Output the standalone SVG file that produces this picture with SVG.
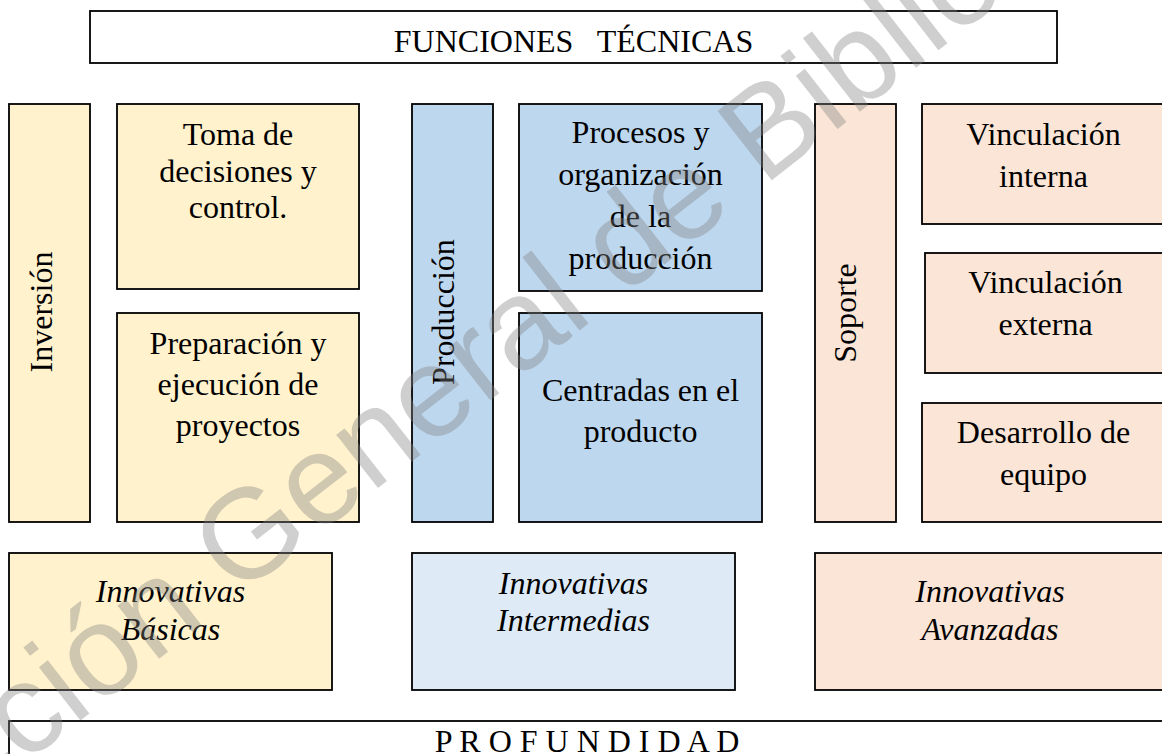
<svg xmlns="http://www.w3.org/2000/svg" width="1162" height="754" viewBox="0 0 1162 754">
<style>
  .box { stroke: #000; stroke-width: 1.8; }
  .y { fill: #FFF2CC; }
  .b { fill: #BDD7EE; }
  .lb { fill: #DEEBF7; }
  .p { fill: #FBE5D6; }
  .w { fill: #FFFFFF; }
  text { font-family: "Liberation Serif", "Times New Roman", serif; font-size: 32px; fill: #000; text-anchor: middle; }
  .it { font-style: italic; }
  .wm { font-family: "Liberation Sans", Arial, sans-serif; font-size: 128px; fill: #808080; fill-opacity: 0.38; text-anchor: start; }
</style>
<rect width="1162" height="754" fill="#FFFFFF"/>

<g id="titulo">
  <rect class="box w" x="90" y="11" width="967" height="52"/>
  <text x="573.5" y="52" xml:space="preserve">FUNCIONES   TÉCNICAS</text>
</g>

<g id="inversion">
  <rect class="box y" x="9" y="104" width="81" height="418"/>
  <text transform="translate(52,312) rotate(-90)">Inversión</text>
</g>
<g id="toma">
  <rect class="box y" x="117" y="104" width="242" height="185"/>
  <text x="238" y="145">Toma de</text>
  <text x="238" y="182">decisiones y</text>
  <text x="238" y="218">control.</text>
</g>
<g id="preparacion">
  <rect class="box y" x="117" y="313" width="242" height="209"/>
  <text x="238" y="354">Preparación y</text>
  <text x="238" y="395">ejecución de</text>
  <text x="238" y="436">proyectos</text>
</g>

<g id="produccion">
  <rect class="box b" x="412" y="104" width="81" height="418"/>
  <text transform="translate(454,312) rotate(-90)">Producción</text>
</g>
<g id="procesos">
  <rect class="box b" x="519" y="104" width="243" height="187"/>
  <text x="640.5" y="143">Procesos y</text>
  <text x="640.5" y="185">organización</text>
  <text x="640.5" y="227">de la</text>
  <text x="640.5" y="269">producción</text>
</g>
<g id="centradas">
  <rect class="box b" x="519" y="313" width="243" height="209"/>
  <text x="640.5" y="401">Centradas en el</text>
  <text x="640.5" y="442">producto</text>
</g>

<g id="soporte">
  <rect class="box p" x="815" y="104" width="81" height="418"/>
  <text transform="translate(856,313) rotate(-90)">Soporte</text>
</g>
<g id="vinculacion-interna">
  <rect class="box p" x="922" y="104" width="245" height="120"/>
  <text x="1043.5" y="145">Vinculación</text>
  <text x="1043.5" y="187">interna</text>
</g>
<g id="vinculacion-externa">
  <rect class="box p" x="925" y="253" width="245" height="120"/>
  <text x="1045.5" y="293">Vinculación</text>
  <text x="1045.5" y="335">externa</text>
</g>
<g id="desarrollo">
  <rect class="box p" x="922" y="403" width="245" height="119"/>
  <text x="1043.5" y="443">Desarrollo de</text>
  <text x="1043.5" y="485">equipo</text>
</g>

<g id="basicas">
  <rect class="box y" x="9" y="553" width="323" height="137"/>
  <text class="it" x="170.5" y="602">Innovativas</text>
  <text class="it" x="170.5" y="640">Básicas</text>
</g>
<g id="intermedias">
  <rect class="box lb" x="412" y="553" width="323" height="137"/>
  <text class="it" x="573.5" y="594">Innovativas</text>
  <text class="it" x="573.5" y="631">Intermedias</text>
</g>
<g id="avanzadas">
  <rect class="box p" x="815" y="553" width="352" height="137"/>
  <text class="it" x="990" y="602">Innovativas</text>
  <text class="it" x="990" y="640">Avanzadas</text>
</g>

<g id="profundidad">
  <rect class="box w" x="9" y="721" width="1160" height="60"/>
  <text x="587" y="752" xml:space="preserve">P R O F U N D I D A D</text>
</g>

<g id="connectors"></g>

<text class="wm" transform="translate(-212,949) rotate(-38)" x="0" y="0">Dirección General de Bibliotecas</text>
</svg>
